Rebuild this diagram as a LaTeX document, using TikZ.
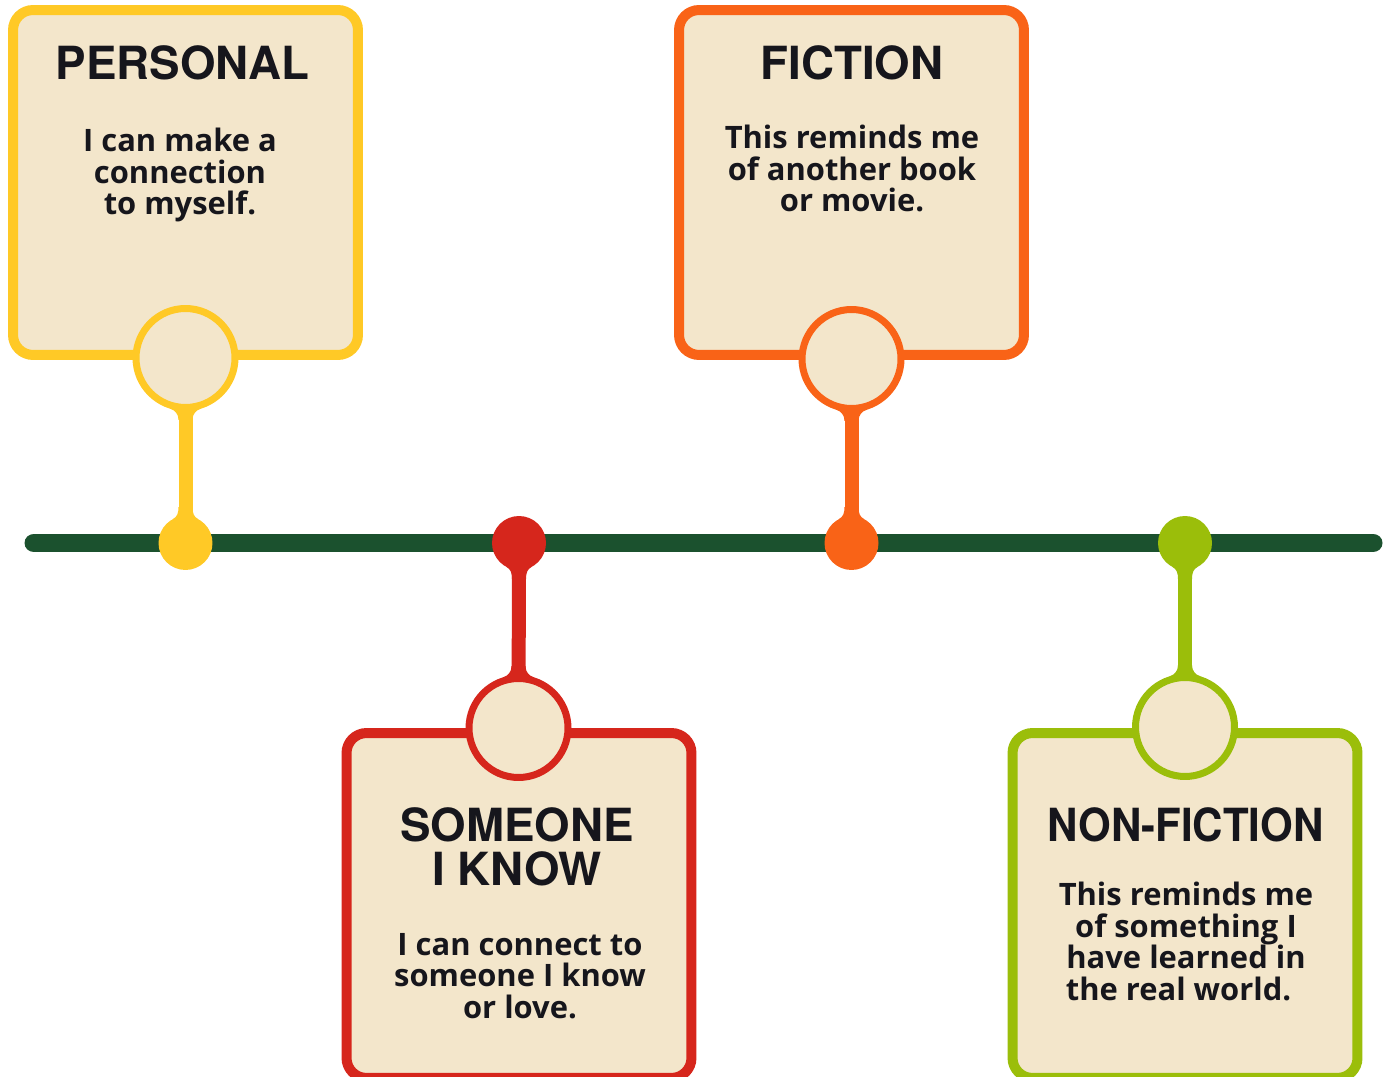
\documentclass[tikz,border=0pt]{standalone}
\usepackage{fontspec}
\setmainfont{Open Sans}
\newfontfamily\headfont{TeX Gyre Heros}
\usetikzlibrary{backgrounds}

\definecolor{cyel}{RGB}{255,201,38}
\definecolor{corg}{RGB}{249,99,23}
\definecolor{cred}{RGB}{214,38,28}
\definecolor{cgrn}{RGB}{155,190,10}
\definecolor{line}{RGB}{27,81,46}
\definecolor{paper}{RGB}{243,230,203}
\definecolor{ink}{RGB}{22,22,28}

% concave neck where a stem meets a round end
\newcommand{\neck}[4]{%
  \pgfmathsetmacro{\no}{10+#2/10}%
  \pgfmathsetmacro{\ny}{sqrt(#2*#2-\no*\no)}%
  \foreach \s in {1,-1}
    \fill[#4,shift={(#1.center)},xscale=\s,yscale=#3]
      (-7,#2+9) .. controls (-7,#2+3) and ({-\no+5*\ny/#2},{\ny+5*\no/#2}) .. (-\no,\ny)
      -- (-\no,#2-12) -- (0,#2-12) -- (0,#2+9) -- cycle;
}

\begin{document}
\begin{tikzpicture}[x=0.02cm,y=-0.02cm,
    card/.style={draw=#1,fill=paper,line width=0.2cm,rounded corners=0.4cm,
                 minimum width=6.9cm,minimum height=6.9cm,inner sep=0,outer sep=0},
    ring/.style={circle,draw=#1,fill=paper,line width=0.14cm,minimum size=1.98cm,inner sep=0},
    bead/.style={circle,fill=#1,minimum size=1.08cm,inner sep=0},
    stem/.style={draw=#1,line width=0.28cm},
    headtext/.style={font=\headfont\bfseries\fontsize{26}{25}\selectfont,
                     anchor=north,inner sep=0,align=center,text=ink},
    bodytext/.style={font=\bfseries\fontsize{17.6}{17.9}\selectfont,
                     anchor=north,inner sep=0,align=center,text=ink}]

  \useasboundingbox (0,0) rectangle (1389,1077);

  % cards
  \node[card=cyel] (pers) at (185.5,182.5) {};
  \node[card=corg] (fict) at (851.5,182.5) {};
  \node[card=cred] (some) at (519,905.5)   {};
  \node[card=cgrn] (nonf) at (1185,905.5)  {};

  % rings on the card edges
  \node[ring=cyel] (pers-ring) at (185.5,358) {};
  \node[ring=corg] (fict-ring) at (851.5,359) {};
  \node[ring=cred] (some-ring) at (518.5,728) {};
  \node[ring=cgrn] (nonf-ring) at (1185,727)  {};

  % beads on the timeline
  \coordinate (tl-a) at (34,543);
  \coordinate (tl-b) at (1373,543);
  \node[bead=cyel] (pers-dot) at (185.5,543) {};
  \node[bead=cred] (some-dot) at (519,543)   {};
  \node[bead=corg] (fict-dot) at (851.5,543) {};
  \node[bead=cgrn] (nonf-dot) at (1185,543)  {};

  \begin{scope}[on background layer]
    \draw[line,line width=0.38cm,line cap=round] (tl-a) -- (tl-b);
    \foreach \n/\c in {pers/cyel,fict/corg,some/cred,nonf/cgrn}
      \draw[stem=\c] (\n-ring) -- (\n-dot);
    \neck{pers-ring}{53}{1}{cyel}  \neck{pers-dot}{27}{-1}{cyel}
    \neck{fict-ring}{53}{1}{corg}  \neck{fict-dot}{27}{-1}{corg}
    \neck{some-ring}{53}{-1}{cred} \neck{some-dot}{27}{1}{cred}
    \neck{nonf-ring}{53}{-1}{cgrn} \neck{nonf-dot}{27}{1}{cgrn}
  \end{scope}

  % texts
  \node[headtext] (pers-head) at (182.5,45) {PERSONAL};
  \node[bodytext] (pers-body) at (180,128)  {I can make a\\connection\\to myself.};
  \node[headtext] (fict-head) at (852,45)   {FICTION};
  \node[bodytext] (fict-body) at (852,125)  {This reminds me\\of another book\\or movie.};
  \node[headtext] (some-head) at (517,807)  {SOMEONE\\I KNOW};
  \node[bodytext] (some-body) at (520,933)  {I can connect to\\someone I know\\or love.};
  \node[headtext,xscale=0.92] (nonf-head) at (1185.5,807) {NON-FICTION};
  \node[bodytext] (nonf-body) at (1186,882) {This reminds me\\of something I\\have learned in\\the real world.\hspace*{0.3cm}};
\end{tikzpicture}
\end{document}
